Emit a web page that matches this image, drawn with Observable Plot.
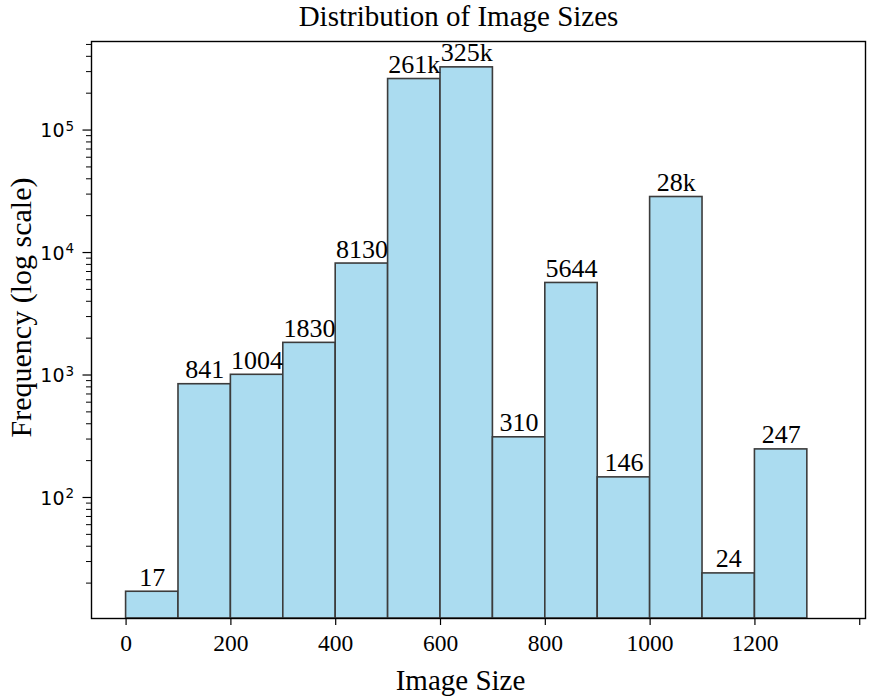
<!DOCTYPE html>
<html>
<head>
<meta charset="utf-8">
<script src="https://cdn.jsdelivr.net/npm/d3@7"></script>
<script src="https://cdn.jsdelivr.net/npm/@observablehq/plot@0.6"></script>
<style>
  html, body { margin: 0; padding: 0; background: #fff; }
  #chart svg { display: block; }
</style>
</head>
<body>
<div id="chart"></div>
<script>
// ---- data ----
const binEdges = [0, 100, 200, 300, 400, 500, 600, 700, 800, 900, 1000, 1100, 1200, 1300];
const counts = [17, 841, 1004, 1830, 8130, 261000, 325000, 310, 5644, 146, 28400, 24, 247];
const countLabels = ["17", "841", "1004", "1830", "8130", "261k", "325k", "310", "5644", "146", "28k", "24", "247"];
const xTicks = [0, 200, 400, 600, 800, 1000, 1200, 1400];
const xTickLabels = ["0", "200", "400", "600", "800", "1000", "1200", ""];
const yMajorTicks = [100, 1000, 10000, 100000];
const yMajorBase = ["10", "10", "10", "10"];
const yMajorExp = ["2", "3", "4", "5"];
const yMinorTicks = [20, 30, 40, 50, 60, 70, 80, 90,
  200, 300, 400, 500, 600, 700, 800, 900,
  2000, 3000, 4000, 5000, 6000, 7000, 8000, 9000,
  20000, 30000, 40000, 50000, 60000, 70000, 80000, 90000,
  200000, 300000, 400000, 500000];
const title = "Distribution of Image Sizes";
const xLabel = "Image Size";
const yLabel = "Frequency (log scale)";

const yDomain = [Math.pow(10, 1.012), Math.pow(10, 5.723)];
const bins = counts.map((c, i) => ({x1: binEdges[i], x2: binEdges[i + 1], count: c, label: countLabels[i]}));
const yTickRows = yMajorTicks.map((v, i) => ({v, base: yMajorBase[i], exp: yMajorExp[i]}));
const xLabelOf = new Map(xTicks.map((v, i) => [v, xTickLabels[i]]));

const serif = "'Liberation Serif', 'Times New Roman', Times, serif";
const sans = "'DejaVu Sans', sans-serif";

const chart = Plot.plot({
  width: 872,
  height: 699,
  marginTop: 41,
  marginBottom: 81,
  marginLeft: 91,
  marginRight: 7,
  style: {fontFamily: serif, background: "#fff", color: "#000"},
  x: {domain: [-66, 1411]},
  y: {type: "log", domain: yDomain},
  marks: [
    Plot.rectY(bins, {x1: "x1", x2: "x2", y1: yDomain[0], y2: "count",
      fill: "#abdcf0", stroke: "#3c3c3c", strokeWidth: 1.6}),
    Plot.text(bins, {x: d => (d.x1 + d.x2) / 2, y: "count", text: "label",
      lineAnchor: "bottom", dy: -6, fontSize: 26, fontFamily: serif, fill: "#000"}),
    Plot.frame({stroke: "#000", strokeWidth: 1.4}),
    Plot.axisX({ticks: xTicks, tickSize: 7, tickPadding: 9, tickFormat: d => xLabelOf.get(d),
      fontSize: 23.5, fontFamily: serif, label: null, stroke: "#000", strokeWidth: 1.2}),
    Plot.axisY({ticks: yMinorTicks, tickSize: 5, tickFormat: () => null, text: null, label: null, stroke: "#000", strokeWidth: 1}),
    Plot.axisY({ticks: yMajorTicks, tickSize: 8.5, tickFormat: () => null, text: null, label: null, stroke: "#000", strokeWidth: 1.2}),
    Plot.text(yTickRows, {y: "v", text: "base", frameAnchor: "left", dx: -27, textAnchor: "end",
      lineAnchor: "middle", dy: 1, fontSize: 19, fontFamily: sans, fill: "#000"}),
    Plot.text(yTickRows, {y: "v", text: "exp", frameAnchor: "left", dx: -26, textAnchor: "start",
      lineAnchor: "middle", dy: -3.5, fontSize: 13.5, fontFamily: sans, fill: "#000"}),
    Plot.text([title], {frameAnchor: "top", dx: -20, dy: -25, lineAnchor: "middle",
      fontSize: 29, fontFamily: serif, fill: "#000"}),
    Plot.text([xLabel], {frameAnchor: "bottom", dx: -18, dy: 62, lineAnchor: "middle",
      fontSize: 29, fontFamily: serif, fill: "#000"}),
    Plot.text([yLabel], {frameAnchor: "left", dx: -70, dy: -22.5, rotate: -90, textAnchor: "middle",
      lineAnchor: "middle", fontSize: 30, fontFamily: serif, fill: "#000"})
  ]
});
document.getElementById("chart").appendChild(chart);
</script>
</body>
</html>
